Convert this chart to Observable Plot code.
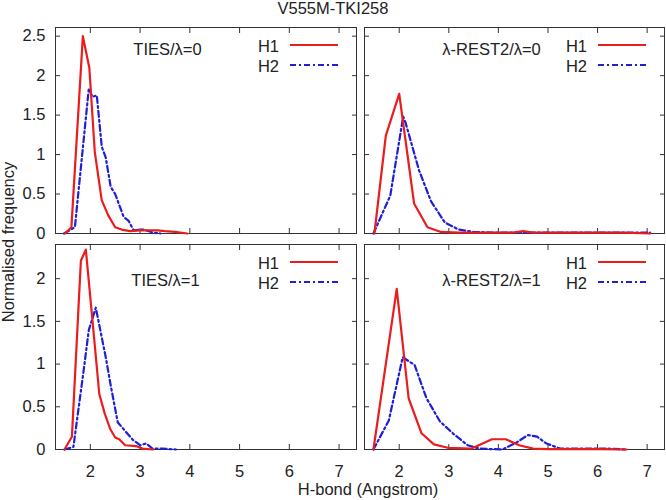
<!DOCTYPE html>
<html>
<head>
<meta charset="utf-8">
<script src="https://cdn.jsdelivr.net/npm/d3@7"></script>
<script src="https://cdn.jsdelivr.net/npm/@observablehq/plot@0.6"></script>
<style>
  body { margin: 0; background: #fff; }
  #wrap { position: relative; width: 666px; height: 500px; font-family: "Liberation Sans", Arial, sans-serif; color: #222; }
  #wrap svg { position: absolute; overflow: visible; }
  .title { position: absolute; left: 0; top: 0; width: 666px; text-align: center; font-size: 16.5px; line-height: 16px; }
  .xlab { position: absolute; left: 218px; top: 481px; width: 300px; text-align: center; font-size: 16.5px; line-height: 16px; }
  .ylab { position: absolute; left: -142px; top: 234px; width: 300px; text-align: center; font-size: 16.5px; line-height: 16px; transform: rotate(-90deg); }
</style>
</head>
<body>
<div id="wrap">
  <div class="title">V555M-TKI258</div>
  <div class="ylab">Normalised frequency</div>
  <div class="xlab">H-bond (Angstrom)</div>
</div>
<script>
// ---------- data ----------
const title = "V555M-TKI258";
const seriesNames = ["H1", "H2"];
const panelLabels = ["TIES/λ=0", "λ-REST2/λ=0", "TIES/λ=1", "λ-REST2/λ=1"];
const xTicks = [2, 3, 4, 5, 6, 7];
const yTicksTop = [0, 0.5, 1, 1.5, 2, 2.5];
const yTicksBottom = [0, 0.5, 1, 1.5, 2];

// TIES / lambda=0
const tiesL0_H1_x = [1.49, 1.62, 1.85, 1.98, 2.09, 2.23, 2.36, 2.50, 2.63, 2.80, 3.00, 3.20, 3.35, 3.50, 3.70, 3.95];
const tiesL0_H1_y = [0, 0.08, 2.50, 2.10, 1.03, 0.42, 0.23, 0.08, 0.05, 0.03, 0.04, 0.04, 0.04, 0.03, 0.02, 0];
const tiesL0_H2_x = [1.47, 1.69, 1.97, 2.04, 2.13, 2.23, 2.31, 2.41, 2.50, 2.67, 2.77, 2.87, 3.07, 3.27, 3.41];
const tiesL0_H2_y = [0, 0.08, 1.84, 1.73, 1.75, 1.10, 0.96, 0.59, 0.50, 0.21, 0.16, 0.04, 0.05, 0.01, 0];

// lambda-REST2 / lambda=0
const restL0_H1_x = [1.50, 1.73, 2.00, 2.30, 2.57, 2.84, 3.20, 3.60, 4.00, 4.30, 4.50, 4.70, 5.00, 5.50, 6.00, 6.50, 7.06];
const restL0_H1_y = [0, 1.24, 1.77, 0.38, 0.08, 0.02, 0.01, 0.01, 0.01, 0.01, 0.03, 0.01, 0.01, 0.01, 0.01, 0.01, 0];
const restL0_H2_x = [1.48, 1.82, 2.08, 2.13, 2.40, 2.64, 2.92, 3.20, 3.50, 4.00, 4.50, 5.00, 5.50, 6.00, 6.50, 7.06];
const restL0_H2_y = [0, 0.48, 1.48, 1.40, 0.80, 0.41, 0.14, 0.05, 0.02, 0.01, 0.01, 0.01, 0.01, 0.01, 0.01, 0.01];

// TIES / lambda=1
const tiesL1_H1_x = [1.48, 1.63, 1.81, 1.91, 2.08, 2.18, 2.29, 2.40, 2.50, 2.58, 2.70, 2.92, 3.05, 3.26];
const tiesL1_H1_y = [0, 0.15, 2.21, 2.34, 1.28, 0.65, 0.42, 0.24, 0.14, 0.12, 0.05, 0.04, 0.01, 0];
const tiesL1_H2_x = [1.48, 1.66, 1.86, 1.97, 2.11, 2.31, 2.41, 2.55, 2.71, 2.86, 3.00, 3.12, 3.25, 3.45, 3.72];
const tiesL1_H2_y = [0, 0.03, 0.90, 1.40, 1.66, 1.08, 0.75, 0.32, 0.21, 0.11, 0.05, 0.07, 0.01, 0.01, 0];

// lambda-REST2 / lambda=1
const restL1_H1_x = [1.48, 1.95, 2.19, 2.45, 2.70, 2.98, 3.45, 3.87, 4.15, 4.42, 4.70, 5.00, 5.50, 6.00, 6.59];
const restL1_H1_y = [0, 1.88, 0.60, 0.19, 0.06, 0.02, 0.01, 0.12, 0.12, 0.05, 0.01, 0.005, 0.005, 0.005, 0];
const restL1_H2_x = [1.48, 1.79, 2.07, 2.31, 2.55, 2.82, 3.10, 3.38, 3.62, 4.08, 4.36, 4.60, 4.78, 4.97, 5.25, 5.80, 6.20, 6.57];
const restL1_H2_y = [0, 0.34, 1.08, 0.99, 0.60, 0.33, 0.18, 0.05, 0.01, 0, 0.08, 0.17, 0.15, 0.07, 0.01, 0.01, 0.01, 0];

const xDomain = [1.3, 7.35];
const yDomainTop = [0, 2.61];
const yDomainBottom = [0, 2.4];

// ---------- drawing ----------
const RED = "#ea1c1c";
const BLUE = "#1f1fd6";
const DASH = "6,3,2,3";
const FONT = "'Liberation Sans', Arial, sans-serif";

function pts(xs, ys) { return xs.map((x, i) => ({x, y: ys[i]})); }

function panel(cfg) {
  const marks = [
    Plot.frame({stroke: "#333", strokeWidth: 1}),
    Plot.axisX(xTicks, {anchor: "bottom", tickSize: -5, fill: "none", label: null, stroke: "#333"}),
    Plot.axisX(xTicks, {anchor: "top", tickSize: -5, fill: "none", label: null, stroke: "#333"}),
    Plot.axisY(cfg.yTicks, {anchor: "left", tickSize: -5, fill: "none", label: null, stroke: "#333"}),
    Plot.axisY(cfg.yTicks, {anchor: "right", tickSize: -5, fill: "none", label: null, stroke: "#333"}),
  ];
  if (cfg.showX) marks.push(Plot.axisX(xTicks, {anchor: "bottom", tickSize: 0, tickPadding: 16, label: null, fontSize: 16.5, fill: "#222"}));
  if (cfg.showY) marks.push(Plot.axisY(cfg.yTicks, {anchor: "left", tickSize: 0, tickPadding: 10, label: null, fontSize: 16.5, fill: "#222", tickFormat: d => String(d)}));
  marks.push(
    Plot.line(cfg.h2, {x: "x", y: "y", stroke: BLUE, strokeWidth: 2.2, strokeDasharray: DASH}),
    Plot.line(cfg.h1, {x: "x", y: "y", stroke: RED, strokeWidth: 2.2}),
    Plot.text([cfg.label], {frameAnchor: "top-left", dx: cfg.labelDx, dy: cfg.labelDy, textAnchor: "middle", lineAnchor: "top", fontSize: 16.5, fill: "#222"})
  );
  const svg = Plot.plot({
    width: cfg.width, height: cfg.height,
    marginLeft: cfg.ml, marginRight: cfg.mr, marginTop: cfg.mt, marginBottom: cfg.mb,
    x: {domain: xDomain, label: null},
    y: {domain: cfg.yDomain, label: null},
    style: {fontFamily: FONT, fontSize: "16.5px", color: "#222", background: "transparent", overflow: "visible"},
    marks
  });
  svg.style.left = cfg.left + "px";
  svg.style.top = cfg.top + "px";
  // legend
  const right = cfg.width - cfg.mr;
  const g = d3.select(svg).append("g").attr("font-family", FONT).attr("font-size", 16.5).attr("fill", "#222");
  const rows = [
    {name: seriesNames[0], color: RED, dash: null},
    {name: seriesNames[1], color: BLUE, dash: DASH}
  ];
  rows.forEach((r, i) => {
    const ly = cfg.mt + 18 + i * 20;
    g.append("text").attr("x", right - 77).attr("y", ly + 6.5).attr("text-anchor", "end").text(r.name);
    const ln = g.append("line").attr("x1", right - 66).attr("x2", right - 18).attr("y1", ly).attr("y2", ly)
      .attr("stroke", r.color).attr("stroke-width", 2.2);
    if (r.dash) ln.attr("stroke-dasharray", r.dash);
  });
  document.getElementById("wrap").appendChild(svg);
}

panel({label: panelLabels[0], h1: pts(tiesL0_H1_x, tiesL0_H1_y), h2: pts(tiesL0_H2_x, tiesL0_H2_y),
  yDomain: yDomainTop, yTicks: yTicksTop, showX: false, showY: true,
  left: 0, top: 0, width: 360, height: 240, ml: 55, mr: 4, mt: 27, mb: 7, labelDx: 112, labelDy: 15.7});
panel({label: panelLabels[1], h1: pts(restL0_H1_x, restL0_H1_y), h2: pts(restL0_H2_x, restL0_H2_y),
  yDomain: yDomainTop, yTicks: yTicksTop, showX: false, showY: false,
  left: 360, top: 0, width: 306, height: 240, ml: 4, mr: 2, mt: 27, mb: 7, labelDx: 127, labelDy: 15.7});
panel({label: panelLabels[2], h1: pts(tiesL1_H1_x, tiesL1_H1_y), h2: pts(tiesL1_H2_x, tiesL1_H2_y),
  yDomain: yDomainBottom, yTicks: yTicksBottom, showX: true, showY: true,
  left: 0, top: 240, width: 360, height: 260, ml: 55, mr: 4, mt: 4, mb: 51, labelDx: 110, labelDy: 29.3});
panel({label: panelLabels[3], h1: pts(restL1_H1_x, restL1_H1_y), h2: pts(restL1_H2_x, restL1_H2_y),
  yDomain: yDomainBottom, yTicks: yTicksBottom, showX: true, showY: false,
  left: 360, top: 240, width: 306, height: 260, ml: 4, mr: 2, mt: 4, mb: 51, labelDx: 127, labelDy: 29.3});
</script>
</body>
</html>
